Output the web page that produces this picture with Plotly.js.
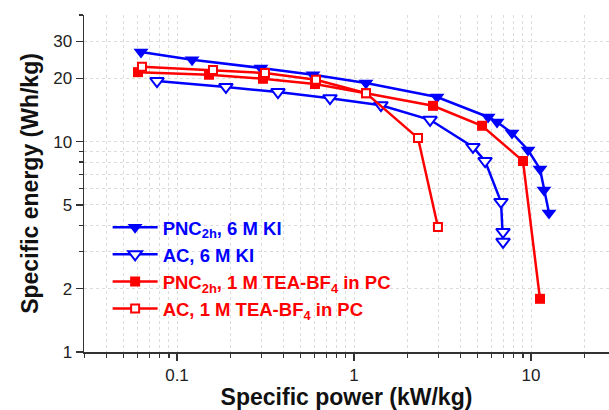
<!DOCTYPE html>
<html>
<head>
<meta charset="utf-8">
<script src="https://cdn.plot.ly/plotly-3.0.1.min.js"></script>
<style>html,body{margin:0;padding:0;background:#fff;}#chart{width:609px;height:410px;}</style>
</head>
<body>
<div id="chart"></div>
<script>
// Series: specific power (kW/kg) and specific energy (Wh/kg)
const pncKI_x = [0.0626, 0.1217, 0.298, 0.587, 1.169, 2.944, 5.72, 6.43, 7.81, 9.62, 11.24, 11.84, 12.64];
const pncKI_y = [26.7, 24.5, 22.4, 20.8, 19.0, 16.3, 13.1, 12.4, 11.0, 9.13, 7.42, 5.89, 4.58];

const acKI_x = [0.0771, 0.189, 0.372, 0.732, 1.42, 2.69, 4.70, 5.50, 6.77, 6.95, 6.95];
const acKI_y = [19.4, 18.2, 17.2, 16.1, 14.9, 12.7, 9.44, 8.09, 5.17, 3.72, 3.34];

const pncTEA_x = [0.0602, 0.1517, 0.306, 0.602, 1.169, 2.795, 5.29, 9.01, 11.24];
const pncTEA_y = [21.4, 20.8, 19.9, 18.8, 17.0, 14.8, 11.9, 8.09, 1.79];

const acTEA_x = [0.0634, 0.1597, 0.314, 0.610, 1.169, 2.30, 2.98];
const acTEA_y = [22.7, 21.9, 21.2, 19.7, 17.0, 10.4, 3.93];

const seriesNames = [
  '<b>PNC<sub>2h</sub>, 6 M KI</b>',
  '<b>AC, 6 M KI</b>',
  '<b>PNC<sub>2h</sub>, 1 M TEA-BF<sub>4</sub> in PC</b>',
  '<b>AC, 1 M TEA-BF<sub>4</sub> in PC</b>'
];

const xTickVals = [0.1, 1, 10];
const xTickText = ['0.1', '1', '10'];
const xMinorVals = [0.03,0.04,0.05,0.06,0.07,0.08,0.09,0.2,0.3,0.4,0.5,0.6,0.7,0.8,0.9,2,3,4,5,6,7,8,9,20];
const yTickVals = [1, 2, 5, 10, 20, 30];
const yTickText = ['1', '2', '5', '10', '20', '30'];
const yMinorVals = [3,4,6,7,8,9,40];

const BLUE = '#0000ff', RED = '#ff0000';
const colorName = (c, s) => '<span style="color:' + c + '">' + s + '</span>';

const traces = [
  {x: pncKI_x, y: pncKI_y, name: colorName(BLUE, seriesNames[0]), mode: 'lines+markers',
   line: {color: BLUE, width: 2.5},
   marker: {symbol: 'triangle-down', size: 13, color: BLUE}},
  {x: acKI_x, y: acKI_y, name: colorName(BLUE, seriesNames[1]), mode: 'lines+markers',
   line: {color: BLUE, width: 2.5},
   marker: {symbol: 'triangle-down', size: 12, color: '#ffffff', line: {color: BLUE, width: 2}}},
  {x: pncTEA_x, y: pncTEA_y, name: colorName(RED, seriesNames[2]), mode: 'lines+markers',
   line: {color: RED, width: 2.5},
   marker: {symbol: 'square', size: 10, color: RED}},
  {x: acTEA_x, y: acTEA_y, name: colorName(RED, seriesNames[3]), mode: 'lines+markers',
   line: {color: RED, width: 2.5},
   marker: {symbol: 'square', size: 8, color: '#ffffff', line: {color: RED, width: 2}}}
];

const FONT = 'Liberation Sans, Arial, sans-serif';
const layout = {
  width: 609, height: 410,
  margin: {l: 84, r: 0, t: 15, b: 58},
  paper_bgcolor: '#ffffff', plot_bgcolor: '#ffffff',
  font: {family: FONT, color: '#222'},
  showlegend: true,
  legend: {x: 0.045, y: 0.425, xanchor: 'left', yanchor: 'top', bgcolor: 'rgba(0,0,0,0)',
           font: {family: FONT, size: 18.5}, itemwidth: 45, tracegroupgap: 0},
  xaxis: {
    type: 'log', range: [-1.5254, 1.4407],
    tickmode: 'array', tickvals: xTickVals, ticktext: xTickText,
    ticks: 'outside', ticklen: 7, tickwidth: 1.3, tickcolor: '#333',
    showline: true, linecolor: '#333', linewidth: 1.5, mirror: false,
    showgrid: true, gridcolor: '#dcdcdc', gridwidth: 1, griddash: 'dot',
    zeroline: false,
    tickfont: {family: FONT, size: 17, color: '#222'},
    minor: {tickmode: 'array', tickvals: xMinorVals, ticks: 'outside', ticklen: 4, tickwidth: 1.2, tickcolor: '#333',
            showgrid: true, gridcolor: '#dcdcdc', gridwidth: 1, griddash: 'dot'},
    title: {text: '<b>Specific power (kW/kg)</b>', font: {family: FONT, size: 23, color: '#111'}, standoff: 4}
  },
  yaxis: {
    type: 'log', range: [0, Math.log10(40)],
    tickmode: 'array', tickvals: yTickVals, ticktext: yTickText,
    ticks: 'outside', ticklen: 7, tickwidth: 1.3, tickcolor: '#333',
    showline: true, linecolor: '#333', linewidth: 1.5, mirror: false,
    showgrid: true, gridcolor: '#dcdcdc', gridwidth: 1, griddash: 'dot',
    zeroline: false,
    tickfont: {family: FONT, size: 17, color: '#222'},
    minor: {tickmode: 'array', tickvals: yMinorVals, ticks: 'outside', ticklen: 4, tickwidth: 1.2, tickcolor: '#333',
            showgrid: true, gridcolor: '#dcdcdc', gridwidth: 1, griddash: 'dot'},
    title: {text: '<b>Specific energy (Wh/kg)</b>', font: {family: FONT, size: 23, color: '#111'}, standoff: 8}
  }
};

Plotly.newPlot('chart', traces, layout, {displayModeBar: false, staticPlot: true});
</script>
</body>
</html>
